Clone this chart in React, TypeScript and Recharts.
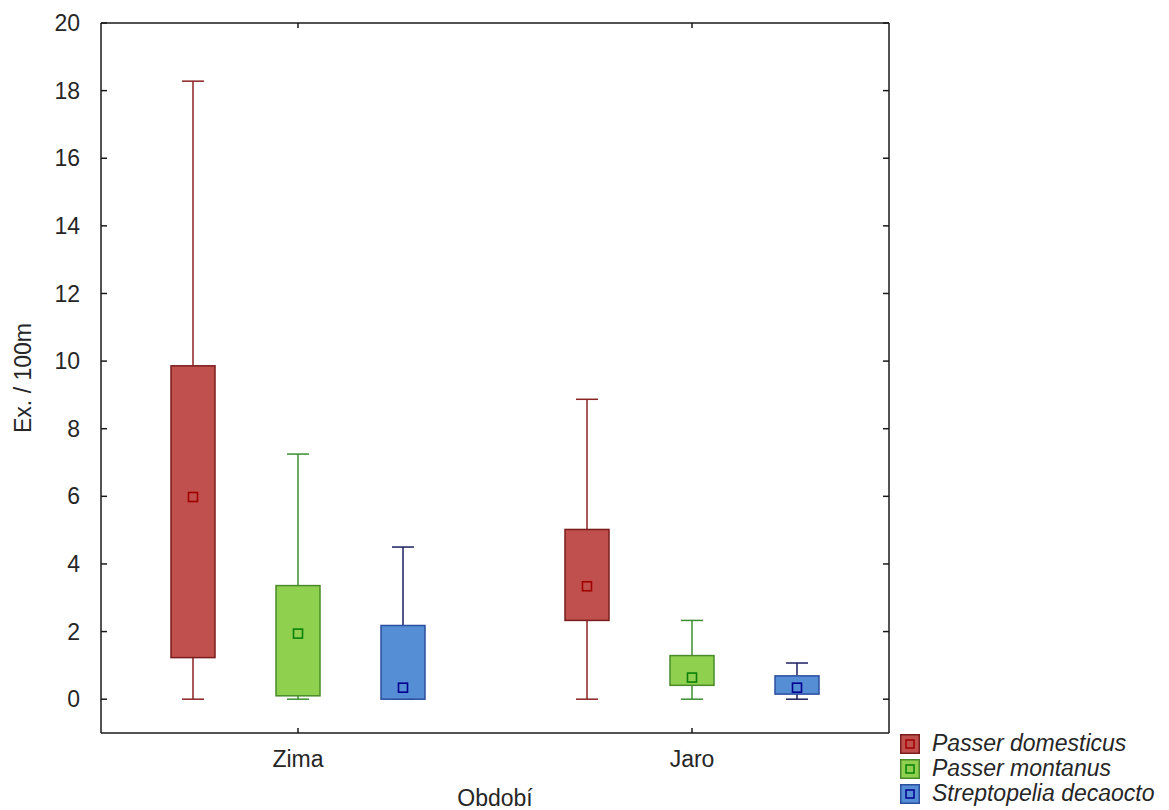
import { ComposedChart, Bar, XAxis, YAxis } from "recharts";

const periods = ["Zima", "Jaro"];
const speciesNames = ["Passer domesticus", "Passer montanus", "Streptopelia decaocto"];
const speciesKeys = ["dom", "mon", "dec"];

// box stats per period (Zima, Jaro)
const domMin = [0, 0];
const domQ1 = [1.23, 2.33];
const domMean = [5.98, 3.34];
const domQ3 = [9.86, 5.02];
const domMax = [18.28, 8.87];

const monMin = [0, 0];
const monQ1 = [0.1, 0.41];
const monMean = [1.94, 0.64];
const monQ3 = [3.36, 1.29];
const monMax = [7.25, 2.33];

const decMin = [0, 0];
const decQ1 = [0, 0.15];
const decMean = [0.34, 0.34];
const decQ3 = [2.18, 0.69];
const decMax = [4.5, 1.07];

const yTicks = [0, 2, 4, 6, 8, 10, 12, 14, 16, 18, 20];

const colors: Record<string, { fill: string; edge: string; whisker: string; mean: string }> = {
  dom: { fill: "#c0504d", edge: "#7a1c1c", whisker: "#8b2323", mean: "#a00000" },
  mon: { fill: "#8fd14f", edge: "#4a8a2a", whisker: "#3a8f30", mean: "#0a800a" },
  dec: { fill: "#558ed5", edge: "#2b4f9f", whisker: "#1b1f5f", mean: "#000090" },
};

const stats: Record<string, number[][]> = {
  dom: [domMin, domQ1, domMean, domQ3, domMax],
  mon: [monMin, monQ1, monMean, monQ3, monMax],
  dec: [decMin, decQ1, decMean, decQ3, decMax],
};

const data = periods.map((period, i) => {
  const row: any = { period };
  speciesKeys.forEach((k) => {
    const [mn, q1, mean, q3, mx] = stats[k].map((arr) => arr[i]);
    row[k] = [mn, mx];
    row[k + "Stats"] = { mn, q1, mean, q3, mx };
  });
  return row;
});

const FONT = '"Liberation Sans", Arial, sans-serif';
const AXIS = "#1a1a1a";

function BoxShape(props: any) {
  const { x, y, width, height, payload, k } = props;
  const s = payload[k + "Stats"];
  const c = colors[k];
  const pix = (v: number) => y + ((s.mx - v) / (s.mx - s.mn)) * height;
  const cx = x + width / 2;
  const cap = width / 4;
  const m = pix(s.mean);
  return (
    <g>
      <line x1={cx} x2={cx} y1={pix(s.mx)} y2={pix(s.q3)} stroke={c.whisker} strokeWidth={1.5} />
      <line x1={cx} x2={cx} y1={pix(s.q1)} y2={pix(s.mn)} stroke={c.whisker} strokeWidth={1.5} />
      <line x1={cx - cap} x2={cx + cap} y1={pix(s.mx)} y2={pix(s.mx)} stroke={c.whisker} strokeWidth={1.5} />
      <line x1={cx - cap} x2={cx + cap} y1={pix(s.mn)} y2={pix(s.mn)} stroke={c.whisker} strokeWidth={1.5} />
      <rect
        x={x}
        y={pix(s.q3)}
        width={width}
        height={pix(s.q1) - pix(s.q3)}
        fill={c.fill}
        stroke={c.edge}
        strokeWidth={1.5}
      />
      <rect x={cx - 4.5} y={m - 4.5} width={9} height={9} fill="none" stroke={c.mean} strokeWidth={1.6} />
    </g>
  );
}

// inner tick marks, drawn from the tick anchor (tickSize and tickMargin are 0)
const innerTick = (dx: number, dy: number) => (p: any) =>
  <line x1={p.x} y1={p.y} x2={p.x + dx} y2={p.y + dy} stroke={AXIS} strokeWidth={1.5} />;

function LegendBox() {
  return (
    <div
      style={{
        position: "absolute",
        left: 900,
        top: 731,
        fontFamily: FONT,
        fontSize: 23,
        fontStyle: "italic",
        color: "#262626",
        lineHeight: "25px",
      }}
    >
      {speciesKeys.map((k, i) => (
        <div key={k} style={{ display: "flex", alignItems: "center", height: 25 }}>
          <svg width={20} height={20} style={{ marginRight: 12 }}>
            <rect x={0.75} y={0.75} width={18.5} height={18.5} fill={colors[k].fill} stroke={colors[k].edge} strokeWidth={1.5} />
            <rect x={6} y={6} width={8} height={8} fill="none" stroke={colors[k].mean} strokeWidth={1.5} />
          </svg>
          <span style={{ whiteSpace: "nowrap" }}>{speciesNames[i]}</span>
        </div>
      ))}
    </div>
  );
}

export default function App() {
  return (
    <div style={{ position: "absolute", left: 0, top: 0, width: 1169, height: 810, background: "#fff", overflow: "hidden" }}>
      <ComposedChart
        width={1169}
        height={810}
        data={data}
        margin={{ top: 23, right: 280, bottom: 0, left: 0 }}
        barGap={61}
        style={{ fontFamily: FONT }}
      >
        <XAxis
          dataKey="period"
          height={77}
          axisLine={{ stroke: AXIS, strokeWidth: 1.5 }}
          tickLine={false}
          tickSize={6}
          tickMargin={12}
          tick={{ fontSize: 23, fill: "#262626", fontFamily: FONT }}
          label={({ viewBox }: any) => (
            <text
              x={viewBox.x + viewBox.width / 2}
              y={viewBox.y + viewBox.height - 4}
              textAnchor="middle"
              fontSize={23}
              fill="#262626"
              fontFamily={FONT}
            >
              Období
            </text>
          )}
        />
        <XAxis
          xAxisId="btick"
          dataKey="period"
          mirror
          axisLine={false}
          tickLine={false}
          tickSize={0}
          tickMargin={0}
          tick={innerTick(0, -5)}
        />
        <XAxis
          xAxisId="top"
          dataKey="period"
          orientation="top"
          mirror
          axisLine={{ stroke: AXIS, strokeWidth: 1.5 }}
          tickLine={false}
          tickSize={0}
          tickMargin={0}
          tick={innerTick(0, 5)}
        />
        <YAxis
          type="number"
          domain={[-1, 20]}
          ticks={yTicks}
          width={101}
          allowDataOverflow
          axisLine={{ stroke: AXIS, strokeWidth: 1.5 }}
          tickLine={false}
          tickSize={6}
          tickMargin={15}
          tick={{ fontSize: 23, fill: "#262626", fontFamily: FONT }}
          label={({ viewBox }: any) => {
            const lx = viewBox.x + 31;
            const ly = 378;
            return (
              <text
                x={lx}
                y={ly}
                transform={`rotate(-90, ${lx}, ${ly})`}
                textAnchor="middle"
                fontSize={23}
                fill="#262626"
                fontFamily={FONT}
              >
                Ex. / 100m
              </text>
            );
          }}
        />
        <YAxis
          yAxisId="ltick"
          type="number"
          domain={[-1, 20]}
          ticks={yTicks}
          allowDataOverflow
          mirror
          axisLine={false}
          tickLine={false}
          tickSize={0}
          tickMargin={0}
          tick={innerTick(6, 0)}
        />
        <YAxis
          yAxisId="right"
          orientation="right"
          type="number"
          domain={[-1, 20]}
          ticks={yTicks}
          allowDataOverflow
          mirror
          axisLine={{ stroke: AXIS, strokeWidth: 1.5 }}
          tickLine={false}
          tickSize={0}
          tickMargin={0}
          tick={innerTick(-6, 0)}
        />
        {speciesKeys.map((k) => (
          <Bar
            key={k}
            dataKey={k}
            barSize={44}
            isAnimationActive={false}
            shape={(p: any) => <BoxShape {...p} k={k} />}
          />
        ))}
      </ComposedChart>
      <LegendBox />
    </div>
  );
}
